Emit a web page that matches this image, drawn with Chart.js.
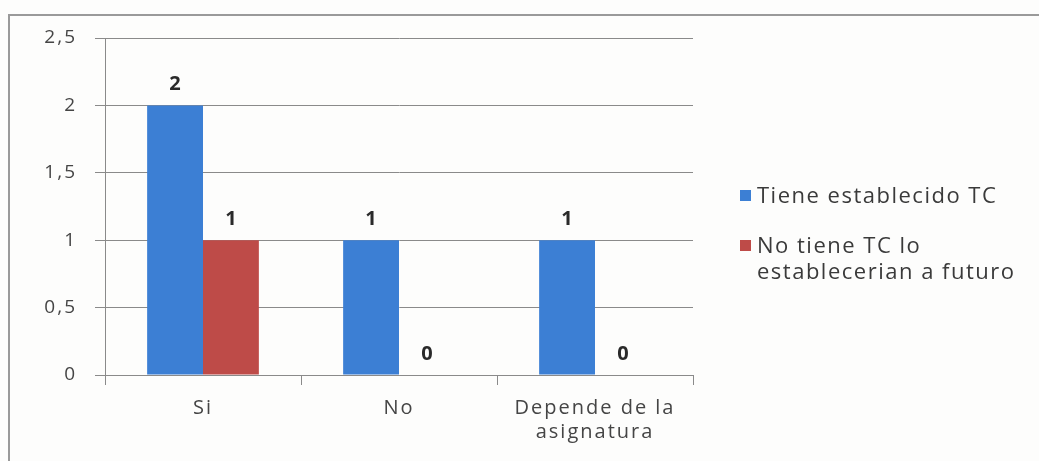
<!DOCTYPE html>
<html>
<head>
<meta charset="utf-8">
<script src="https://cdn.jsdelivr.net/npm/chart.js@4/dist/chart.umd.min.js"></script>
<style>
    html, body { margin: 0; padding: 0; background: #fdfdfc; }
    #wrap { position: relative; width: 1039px; height: 461px; overflow: hidden; }
    #frame {
        position: absolute; left: 8px; top: 14px; width: 1100px; height: 500px;
        border-left: 2px solid #9a9a9a; border-top: 2px solid #9a9a9a;
    }
    #chart { position: absolute; left: 0; top: 0; }
    #legend {
        position: absolute; left: 740px; top: 181px;
        font-family: "Open Sans", sans-serif; font-size: 22px; letter-spacing: 1.5px; color: #3a3a3a;
    }
    #legend .item { display: flex; align-items: flex-start; margin-bottom: 24px; line-height: 26px; }
    #legend .box { width: 11px; height: 11px; margin: 9px 6px 0 0; flex: none; }
</style>
</head>
<body>
<div id="wrap">
    <div id="frame"></div>
    <canvas id="chart" width="1039" height="461"></canvas>
    <div id="legend"></div>
</div>
<script>
    // Chart data
    const categories = ['Si', 'No', ['Depende de la', 'asignatura']];
    const seriesNames = ['Tiene establecido TC', ['No tiene TC lo', 'establecerian a futuro']];
    const tieneValues = [2, 1, 1];
    const noTieneValues = [1, 0, 0];
    const yTicks = [0, 0.5, 1, 1.5, 2, 2.5];
    const yTickLabels = ['0', '0,5', '1', '1,5', '2', '2,5'];
    const seriesColors = ['#3c7fd4', '#be4b48'];

    // Scanned original looks wider, so spread the canvas text a bit
    const wideText = {
        id: 'wideText',
        beforeDraw(chart) { chart.ctx.letterSpacing = '2px'; }
    };

    /**
     * Draw value labels above each bar
     */
    const valueLabels = {
        id: 'valueLabels',
        afterDatasetsDraw(chart) {
            const ctx = chart.ctx;
            ctx.save();
            ctx.letterSpacing = '0px';
            ctx.font = 'bold 20px "Open Sans", sans-serif';
            ctx.fillStyle = '#2a2a2a';
            ctx.textAlign = 'center';
            ctx.textBaseline = 'middle';
            chart.data.datasets.forEach((ds, i) => {
                chart.getDatasetMeta(i).data.forEach((bar, j) => {
                    ctx.fillText(String(ds.data[j]), bar.x, bar.y - 21);
                });
            });
            ctx.restore();
        }
    };

    const chart = new Chart(document.getElementById('chart').getContext('2d'), {
        type: 'bar',
        data: {
            labels: categories,
            datasets: [{
                label: seriesNames[0],
                data: tieneValues,
                backgroundColor: seriesColors[0],
                categoryPercentage: 0.57,
                barPercentage: 1
            }, {
                label: seriesNames[1],
                data: noTieneValues,
                backgroundColor: seriesColors[1],
                categoryPercentage: 0.57,
                barPercentage: 1
            }]
        },
        options: {
            responsive: false,
            animation: false,
            layout: {
                padding: { left: 0, top: 38, right: 346, bottom: 0 }
            },
            plugins: {
                legend: { display: false },
                tooltip: { enabled: false }
            },
            scales: {
                x: {
                    grid: {
                        offset: true,
                        drawOnChartArea: false,
                        drawTicks: true,
                        tickLength: 10,
                        color: '#8a8a8a'
                    },
                    border: { color: '#8a8a8a' },
                    ticks: {
                        color: '#454545',
                        font: { family: '"Open Sans", sans-serif', size: 20 },
                        padding: 11,
                        maxRotation: 0
                    },
                    afterFit(scale) { scale.height = 86; }
                },
                y: {
                    min: 0,
                    max: 2.5,
                    afterBuildTicks(scale) {
                        scale.ticks = yTicks.map(v => ({ value: v }));
                    },
                    grid: {
                        color: '#8a8a8a',
                        tickLength: 10
                    },
                    border: { color: '#8a8a8a' },
                    ticks: {
                        color: '#454545',
                        font: { family: '"Open Sans", sans-serif', size: 19 },
                        padding: 18,
                        callback: (v, i) => yTickLabels[i]
                    },
                    afterFit(scale) { scale.width = 105; }
                }
            }
        },
        plugins: [wideText, valueLabels]
    });

    // Build the legend beside the chart from the dataset settings
    const legend = document.getElementById('legend');
    chart.data.datasets.forEach(ds => {
        const item = document.createElement('div');
        item.className = 'item';
        const box = document.createElement('span');
        box.className = 'box';
        box.style.background = ds.backgroundColor;
        const text = document.createElement('span');
        text.innerHTML = [].concat(ds.label).join('<br>');
        item.appendChild(box);
        item.appendChild(text);
        legend.appendChild(item);
    });
</script>
</body>
</html>
